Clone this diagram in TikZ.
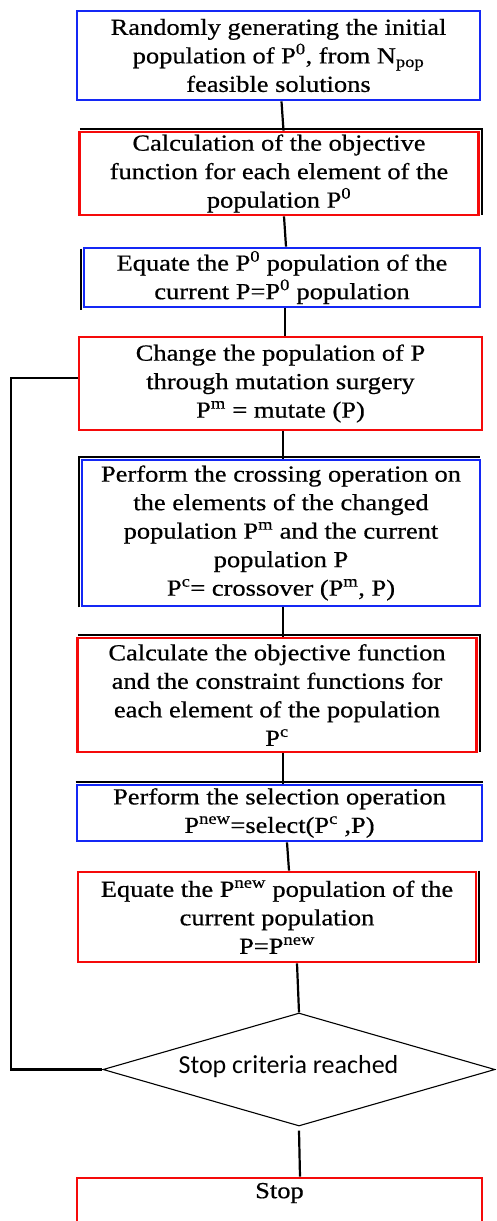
\documentclass[tikz,border=0pt]{standalone}
\usepackage{fontspec}
\setmainfont{Liberation Serif}[FakeStretch=1.15,FakeBold=0.6]
\newfontfamily\diafont{Carlito}
\usetikzlibrary{shapes.geometric}
\definecolor{bblue}{RGB}{20,40,245}
\definecolor{rred}{RGB}{245,10,10}
\tikzset{
  boxbase/.style={rectangle, line width=2.8pt, inner sep=0pt, align=center,
    font=\fontsize{23}{28.5}\selectfont, text=black},
  bluebox/.style={boxbase, draw=bblue},
  redbox/.style={boxbase, draw=rred},
  conn/.style={draw=black, line width=2.2pt},
  shade/.style={draw=black, line width=1.6pt},
  decision/.style={diamond, draw=black, line width=1.1pt, inner sep=0pt}
}
\begin{document}
\begin{tikzpicture}[x=1pt,y=-1pt]
\useasboundingbox (0,0) rectangle (496,1221);
\begin{scope}
\clip (0,0) rectangle (496,1221);
\node[bluebox, minimum width=403pt, minimum height=89pt] (b1) at (278.5,55.5)
  {Randomly generating the initial\\population of P\textsuperscript{0}, from N\textsubscript{pop}\\feasible solutions};
\node[redbox, minimum width=399pt, minimum height=83pt] (b2) at (279,173.5)
  {Calculation of the objective\\function for each element of the\\population P\textsuperscript{0}};
\node[bluebox, minimum width=396pt, minimum height=59pt] (b3) at (282,277.5)
  {Equate the P\textsuperscript{0} population of the\\current P=P\textsuperscript{0} population};
\node[redbox, minimum width=403pt, minimum height=93pt] (b4) at (280.5,383.5)
  {Change the population of P\\through mutation surgery\\P\textsuperscript{m} = mutate (P)};
\node[bluebox, minimum width=398pt, minimum height=146pt] (b5) at (281,533)
  {Perform the crossing operation on\\the elements of the changed\\population P\textsuperscript{m} and the current\\population P\\P\textsuperscript{c}= crossover (P\textsuperscript{m}, P)};
\node[redbox, minimum width=399pt, minimum height=114pt] (b6) at (277,695)
  {Calculate the objective function\\and the constraint functions for\\each element of the population\\P\textsuperscript{c}};
\node[bluebox, minimum width=405pt, minimum height=56pt] (b7) at (279.5,813)
  {Perform the selection operation\\P\textsuperscript{new}=select(P\textsuperscript{c} ,P)};
\node[redbox, minimum width=398pt, minimum height=90pt] (b8) at (277,917)
  {Equate the P\textsuperscript{new} population of the\\current population\\P=P\textsuperscript{new}};
\node[decision, minimum width=392pt, minimum height=113pt] (dia) at (299,1069.5) {};
\node[font=\diafont\fontsize{26}{30}\selectfont, inner sep=0pt] (diatext) at (288.5,1067) {Stop criteria reached};
\node[redbox, minimum width=405pt, minimum height=70pt] (b9) at (279.5,1213) {};
\node[font=\fontsize{23}{26}\selectfont, inner sep=0pt] (stop) at (279.5,1193) {Stop};
\end{scope}
% black shadow edges
\draw[shade] ([shift={(1.8pt,1.8pt)}]b2.north west) -- ([shift={(1.8pt,1.8pt)}]b2.north east) -- ([shift={(1.8pt,1.8pt)}]b2.south east);
\draw[shade] ([shift={(-1.8pt,-2pt)}]b3.north west) -- ([shift={(-1.8pt,-2pt)}]b3.south west);
\draw[shade] ([shift={(-1.8pt,0pt)}]b5.south west) -- ([shift={(-1.8pt,1.8pt)}]b5.north west) -- ([shift={(-1.8pt,1.8pt)}]b5.north east);
\draw[shade] ([shift={(1.8pt,1.8pt)}]b6.north west) -- ([shift={(1.8pt,1.8pt)}]b6.north east) -- ([shift={(1.8pt,1.8pt)}]b6.south east);
\draw[shade] ([shift={(0pt,1.8pt)}]b7.north west) -- ([shift={(0pt,1.8pt)}]b7.north east);
\draw[shade] ([shift={(1.8pt,0pt)}]b8.north east) -- ([shift={(1.8pt,0pt)}]b8.south east);
% connectors
\draw[conn] ([xshift=3pt]b1.south) -- ([xshift=4.5pt]b2.north);
\draw[conn] ([xshift=5pt]b2.south) -- ([xshift=4pt]b3.north);
\draw[conn] ([xshift=3pt]b3.south) -- ([xshift=4.5pt]b4.north);
\draw[conn] ([xshift=2.5pt]b4.south) -- ([xshift=2pt]b5.north);
\draw[conn] ([xshift=2pt]b5.south) -- ([xshift=6pt]b6.north);
\draw[conn] ([xshift=6pt]b6.south) -- ([xshift=3.5pt]b7.north);
\draw[conn] ([xshift=7.5pt]b7.south) -- ([xshift=12pt]b8.north);
\draw[conn] ([xshift=20pt]b8.south) -- (dia.north);
\draw[conn] ([yshift=-4pt]dia.south) -- ([xshift=20.5pt]b9.north);
\draw[conn] ([yshift=5.5pt]b4.west) -- ++(-67,0) |- (dia.west);
\end{tikzpicture}
\end{document}
